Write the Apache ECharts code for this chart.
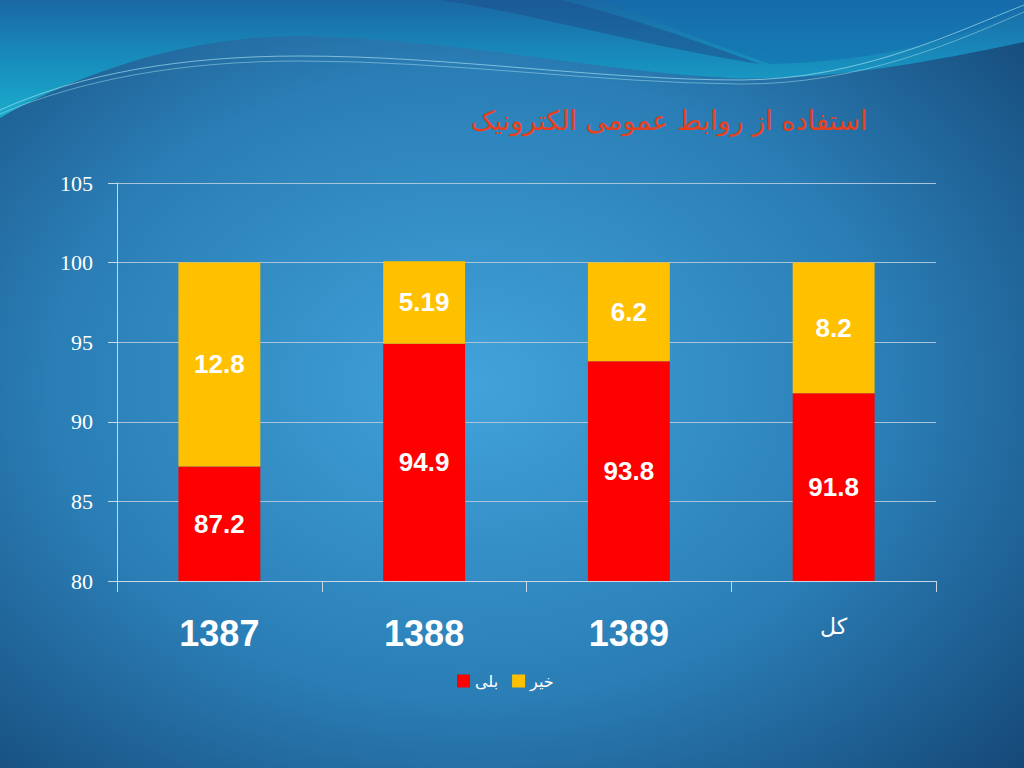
<!DOCTYPE html>
<html>
<head>
<meta charset="utf-8">
<script src="https://cdn.jsdelivr.net/npm/echarts@6/dist/echarts.min.js"></script>
<style>html,body{margin:0;padding:0;width:1024px;height:768px;overflow:hidden}#c{width:1024px;height:768px}</style>
</head>
<body>
<div id="c"></div>
<script>
var titleText = 'استفاده از روابط عمومی الکترونیک';
var categories = ['1387', '1388', '1389', 'کل'];
var seriesNames = ['بلی', 'خیر'];
var yesValues = [87.2, 94.9, 93.8, 91.8];
var noValues = [12.8, 5.19, 6.2, 8.2];
var yesLabels = ['87.2', '94.9', '93.8', '91.8'];
var noLabels = ['12.8', '5.19', '6.2', '8.2'];

// decorative background wave paths
var wavePaths = {
  waveMain: 'M0,0 L1024,0 L1024,42 C930,62 820,82 730,78 C600,72 450,38 300,36 C180,36 70,78 0,118 Z',
  waveDark: 'M440,0 C540,15 640,45 760,64 C700,42 620,14 560,0 Z',
  waveTopRight: 'M700,0 L1024,0 L1024,8 C950,45 860,62 770,64 C700,40 640,14 600,0 Z',
  waveLine1: 'M0,110 C80,74 180,56 300,56 C450,56 600,80 740,80 C860,80 960,30 1024,5',
  waveLine2: 'M0,114 C80,80 180,61 300,61 C450,61 600,83 740,84 C860,85 960,40 1024,12'
};
Object.keys(wavePaths).forEach(function (k) {
  echarts.graphic.registerShape(k, echarts.graphic.extendPath(wavePaths[k], {}));
});

var chart = echarts.init(document.getElementById('c'), null, {renderer: 'svg'});
var option = {
  backgroundColor: {
    type: 'radial', x: 0.46, y: 0.5, r: 0.75,
    colorStops: [
      {offset: 0, color: '#41a3da'},
      {offset: 0.55, color: '#2a7db5'},
      {offset: 1, color: '#144675'}
    ]
  },
  animation: false,
  graphic: [
    {
      type: 'waveMain', silent: true, z: 0,
      style: {
        fill: {type: 'linear', x: 0, y: 0, x2: 0, y2: 1, colorStops: [
          {offset: 0, color: '#1a68a4'}, {offset: 0.5, color: '#188cbc'}, {offset: 1, color: '#1aaccc'}
        ]}
      }
    },
    {type: 'waveDark', silent: true, z: 0, style: {fill: 'rgba(30,80,140,0.55)'}},
    {type: 'waveTopRight', silent: true, z: 0, style: {fill: 'rgba(20,110,175,0.55)'}},
    {type: 'waveLine1', silent: true, z: 0, style: {fill: 'none', stroke: 'rgba(180,235,245,0.6)', lineWidth: 1}},
    {type: 'waveLine2', silent: true, z: 0, style: {fill: 'none', stroke: 'rgba(180,235,245,0.45)', lineWidth: 1}},
    {
      type: 'text', x: 669, y: 120, z: 10,
      style: {text: titleText, fill: '#e8401c', fontSize: 27, fontFamily: 'DejaVu Sans', align: 'center', verticalAlign: 'middle'}
    }
  ],
  legend: {
    data: seriesNames, bottom: 74, left: 452, itemWidth: 13, itemHeight: 13, itemGap: 14,
    icon: 'rect', textStyle: {color: '#ffffff', fontSize: 16, fontFamily: 'DejaVu Sans'}
  },
  grid: {left: 117, right: 88, top: 183, bottom: 187, containLabel: false},
  xAxis: {
    type: 'category', data: categories,
    axisLine: {lineStyle: {color: '#c8d8e6', width: 1}},
    axisTick: {show: true, length: 11, lineStyle: {color: '#c8d8e6'}},
    axisLabel: {
      color: '#ffffff', margin: 34, fontSize: 36, fontWeight: 'bold', fontFamily: 'Liberation Sans, Arial',
      formatter: function (v) { return v === 'کل' ? '{a|' + v + '}' : v; },
      rich: {a: {fontSize: 22, fontWeight: 'normal', color: '#ffffff', fontFamily: 'DejaVu Sans', padding: [0, 0, 12, 0]}}
    }
  },
  yAxis: {
    type: 'value', min: 80, max: 105, interval: 5,
    axisLine: {show: true, lineStyle: {color: '#c8d8e6', width: 1}},
    axisTick: {show: true, length: 9, lineStyle: {color: '#c8d8e6'}},
    splitLine: {lineStyle: {color: '#a9c3d8', width: 1}},
    axisLabel: {color: '#ffffff', fontSize: 22, margin: 24, fontFamily: 'Liberation Serif'}
  },
  series: [
    {
      name: seriesNames[0], type: 'bar', stack: 's', data: yesValues, barWidth: '40%',
      itemStyle: {color: '#ff0000'},
      label: {show: true, position: 'inside', color: '#ffffff', fontSize: 26, fontWeight: 'bold', fontFamily: 'Liberation Sans, Arial',
        formatter: function (p) { return yesLabels[p.dataIndex]; }}
    },
    {
      name: seriesNames[1], type: 'bar', stack: 's', data: noValues, barWidth: '40%',
      itemStyle: {color: '#ffc000'},
      label: {show: true, position: 'inside', color: '#ffffff', fontSize: 26, fontWeight: 'bold', fontFamily: 'Liberation Sans, Arial',
        formatter: function (p) { return noLabels[p.dataIndex]; }}
    }
  ]
};
chart.setOption(option);
</script>
</body>
</html>
